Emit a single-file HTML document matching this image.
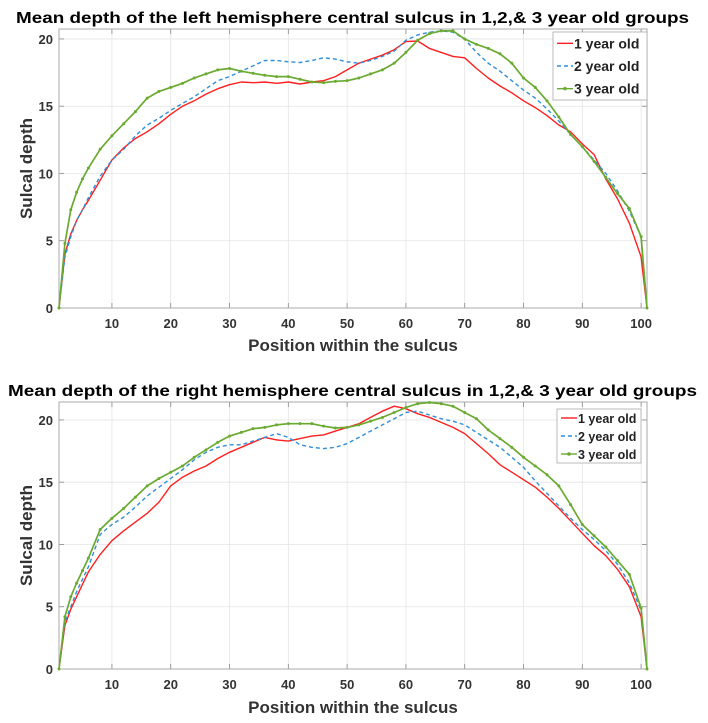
<!DOCTYPE html>
<html><head><meta charset="utf-8"><style>
body{margin:0;background:#fff;}
svg{display:block;font-family:"Liberation Sans",Arial,sans-serif;}
</style></head><body>
<svg id="fig" width="708" height="723"></svg>
<script>
const positions=[1,2,3,4,5,6,8,10,12,14,16,18,20,22,24,26,28,30,32,34,36,38,40,42,44,46,48,50,52,54,56,58,60,62,64,66,68,70,72,74,76,78,80,82,84,86,88,90,92,94,96,98,100,101];
const seriesNames=["1 year old","2 year old","3 year old"];
const xTicks=[10,20,30,40,50,60,70,80,90,100];
const yTicks=[0,5,10,15,20];
const leftRed=[0,4,5.5,6.5,7.3,8,9.5,11,11.9,12.6,13.1,13.7,14.4,15,15.4,15.9,16.3,16.6,16.8,16.75,16.8,16.7,16.8,16.65,16.8,16.9,17.2,17.7,18.2,18.5,18.8,19.2,19.8,19.85,19.3,19.0,18.7,18.6,17.8,17.1,16.5,16.0,15.4,14.9,14.3,13.6,13.1,12.2,11.4,9.6,8.1,6.3,3.8,0];
const leftBlue=[0,3.8,5.3,6.5,7.3,8.2,9.8,11,11.8,12.8,13.6,14.1,14.7,15.2,15.7,16.3,16.9,17.2,17.6,18.0,18.4,18.4,18.3,18.25,18.4,18.6,18.5,18.3,18.2,18.4,18.7,19.1,19.9,20.3,20.5,20.6,20.5,20.0,19.0,18.2,17.6,16.9,16.2,15.6,14.8,13.9,12.9,12.0,11.0,10.0,8.7,7.2,5.3,0];
const leftGreen=[0,4.8,7.3,8.6,9.6,10.4,11.8,12.8,13.7,14.6,15.6,16.1,16.4,16.7,17.1,17.4,17.7,17.8,17.6,17.45,17.3,17.2,17.2,17.0,16.8,16.75,16.85,16.9,17.1,17.4,17.7,18.2,19.0,19.9,20.4,20.6,20.6,20.0,19.6,19.3,18.9,18.2,17.1,16.4,15.4,14.2,12.9,12.0,10.9,9.7,8.5,7.4,5.3,0];
const rightRed=[0,3.5,4.8,5.8,6.8,7.8,9.2,10.3,11.1,11.8,12.5,13.4,14.7,15.4,15.9,16.3,16.9,17.4,17.8,18.2,18.6,18.4,18.3,18.5,18.7,18.8,19.1,19.4,19.7,20.2,20.7,21.1,20.9,20.5,20.2,19.8,19.4,18.9,18.1,17.3,16.4,15.8,15.2,14.6,13.8,12.9,11.9,10.9,9.9,9.1,8.0,6.6,4.2,0];
const rightBlue=[0,3.8,5.0,6.2,7.2,8.2,10.8,11.6,12.2,13.0,13.9,14.6,15.3,16.0,16.8,17.4,17.8,18.0,18.0,18.3,18.6,18.9,18.6,18.0,17.8,17.7,17.8,18.1,18.6,19.1,19.6,20.1,20.6,20.7,20.4,20.1,19.9,19.6,19.0,18.4,17.8,17.0,16.2,15.1,14.1,13.1,12.1,11.2,10.4,9.5,8.4,6.9,4.7,0];
const rightGreen=[0,4.2,5.8,6.9,7.9,8.9,11.2,12.1,12.9,13.8,14.7,15.3,15.8,16.3,17.0,17.6,18.2,18.7,19.0,19.3,19.4,19.6,19.7,19.7,19.7,19.5,19.35,19.4,19.6,19.9,20.2,20.6,21.0,21.3,21.4,21.3,21.1,20.6,20.1,19.2,18.5,17.8,17.0,16.3,15.6,14.7,13.2,11.6,10.7,9.8,8.7,7.6,4.9,0];

const NS="http://www.w3.org/2000/svg";
const svg=document.getElementById('fig');
function mk(tag,attrs,parent,text){const e=document.createElementNS(NS,tag);for(const k in attrs)e.setAttribute(k,attrs[k]);if(text!=null)e.textContent=text;(parent||svg).appendChild(e);return e;}
const colors=["#ff1f1f","#2f8fd8","#6aaa30"];

function panel(cfg){
  const g=mk('g',{});
  
  
  const L=59,R=647,T=cfg.top,B=cfg.bottom,ymax=cfg.ymax;
  const xs=v=>L+(v-1)/100*(R-L);
  const ys=v=>B-v/ymax*(B-T);
  const title=mk('text',{x:cfg.titleX,y:cfg.titleY,'font-size':16,'font-weight':'bold',fill:'#000',textLength:cfg.titleW,lengthAdjust:'spacingAndGlyphs'},g,cfg.title);
  
  
  const grid=mk('g',{},g);
  
  
  xTicks.forEach(t=>{
    mk('line',{x1:xs(t),x2:xs(t),y1:T,y2:B,stroke:'#e4e4e4','stroke-width':0.8},grid);
    mk('line',{x1:xs(t),x2:xs(t),y1:B,y2:B-5,stroke:'#888','stroke-width':0.8},grid);
    mk('line',{x1:xs(t),x2:xs(t),y1:T,y2:T+5,stroke:'#888','stroke-width':0.8},grid);
    const tl=mk('text',{x:xs(t),y:B+20,'font-size':13,'font-weight':'bold',fill:'#333','text-anchor':'middle'},g,String(t));
    
    
  });
  yTicks.forEach(t=>{
    mk('line',{x1:L,x2:R,y1:ys(t),y2:ys(t),stroke:'#e4e4e4','stroke-width':0.8},grid);
    mk('line',{x1:L,x2:L+5,y1:ys(t),y2:ys(t),stroke:'#888','stroke-width':0.8},grid);
    mk('line',{x1:R,x2:R-5,y1:ys(t),y2:ys(t),stroke:'#888','stroke-width':0.8},grid);
    const tl=mk('text',{x:L-6,y:ys(t)+5,'font-size':13,'font-weight':'bold',fill:'#333','text-anchor':'end'},g,String(t));
    
    
  });
  const box=mk('rect',{x:L,y:T,width:R-L,height:B-T,fill:'none',stroke:'#aaa','stroke-width':1},g);
  
  
  const xl=mk('text',{x:(L+R)/2,y:cfg.xlabY,'font-size':17,'font-weight':'bold',fill:'#333','text-anchor':'middle'},g,'Position within the sulcus');
  
  
  const cy=(T+B)/2;
  const yl=mk('text',{x:32,y:cy,'font-size':17,'font-weight':'bold',fill:'#333','text-anchor':'middle',transform:`rotate(-90 32 ${cy})`},g,'Sulcal depth');
  
  
  cfg.series.forEach((vals,i)=>{
    const d=vals.map((v,j)=>(j?'L':'M')+xs(positions[j]).toFixed(1)+','+ys(v).toFixed(1)).join('');
    const p=mk('path',{d:d,fill:'none',stroke:colors[i],'stroke-width':i==2?1.7:1.4,'stroke-dasharray':i==1?'4,3':'none','stroke-linejoin':'round'},g);
    
    
    if(i==2){vals.forEach((v,j)=>{
      const m=mk('circle',{cx:xs(positions[j]),cy:ys(v),r:1.5,fill:colors[2]},g);
      
      
    });}
  });
  const lg=mk('g',{},g);
  
  
  const lb=cfg.legend;
  mk('rect',{x:lb.x,y:lb.y,width:lb.w,height:lb.h,fill:'#fff',stroke:'#aaa','stroke-width':0.8},lg);
  seriesNames.forEach((n,i)=>{
    const yy=lb.y+lb.h*(i+0.5)/3;
    mk('line',{x1:lb.x+4,x2:lb.x+20,y1:yy,y2:yy,stroke:colors[i],'stroke-width':1.4,'stroke-dasharray':i==1?'4,3':'none'},lg);
    if(i==2)mk('circle',{cx:lb.x+12,cy:yy,r:1.8,fill:colors[2]},lg);
    const t=mk('text',{x:lb.x+21,y:yy+5,'font-size':lb.fs,'font-weight':'bold',fill:'#222'},lg,n);
    
    
  });
}
panel({name:'left-hemisphere-chart',top:29,bottom:308,ymax:20.74,title:'Mean depth of the left hemisphere central sulcus in 1,2,& 3 year old groups',titleX:16,titleY:23,titleW:673,xlabY:351,series:[leftRed,leftBlue,leftGreen],legend:{x:553,y:32,w:94,h:68,fs:14}});
panel({name:'right-hemisphere-chart',top:402,bottom:669,ymax:21.44,title:'Mean depth of the right hemisphere central sulcus in 1,2,& 3 year old groups',titleX:8,titleY:396,titleW:689,xlabY:713,series:[rightRed,rightBlue,rightGreen],legend:{x:557,y:409,w:84,h:54,fs:12.5}});
</script>
</body></html>
